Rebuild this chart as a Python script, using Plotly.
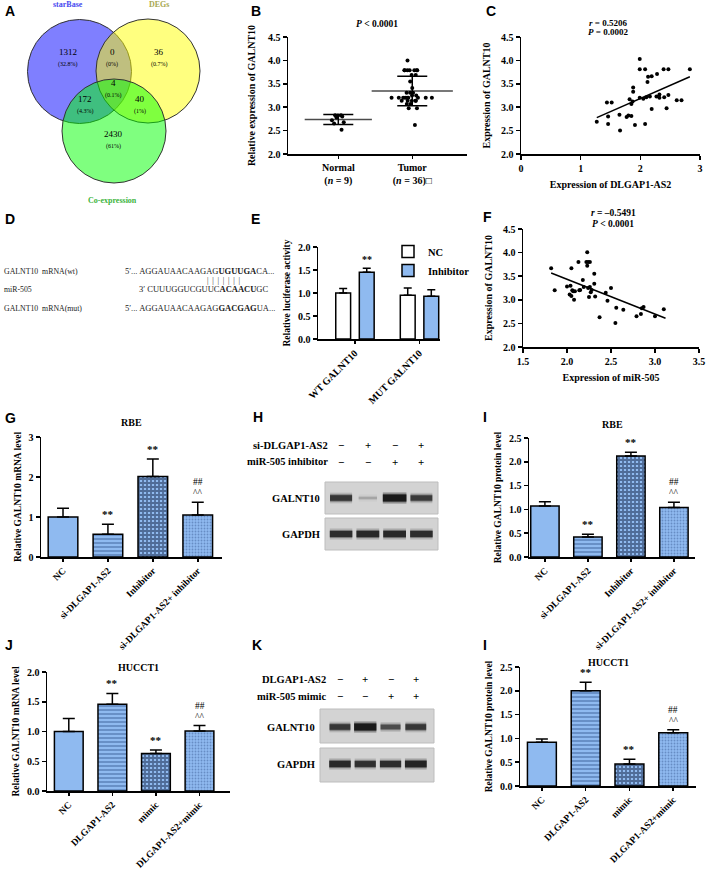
import plotly.graph_objects as go
import numpy as np

W, H = 709, 869
def PX(v): return v / W
def PY(v): return 1 - v / H

SERIF = "Liberation Serif"
SANS = "Liberation Sans"
BLUE = "#8fbaf0"

# ---------------- data ----------------
# A  Venn
venn_sets = ["starBase", "DEGs", "Co-expression"]
venn_counts = [1312, 0, 36, 4, 172, 40, 2430]
venn_pcts = ["(32.8%)", "(0%)", "(0.7%)", "(0.1%)", "(4.3%)", "(1%)", "(61%)"]

# B
b_groups = ["Normal", "Tumor"]
b_ticktext = ["Normal<br>(<i>n</i> = 9)", "Tumor<br>(<i>n</i> = 36)□"]
normal_vals = [2.83, 2.83, 2.82, 2.80, 2.78, 2.72, 2.68, 2.65, 2.52]
tumor_vals = [4.00, 3.79, 3.79, 3.79, 3.79, 3.79, 3.79, 3.79, 3.69, 3.69, 3.55, 3.41,
              3.31, 3.31, 3.31, 3.25, 3.25, 3.20, 3.20, 3.20, 3.20, 3.20, 3.20, 3.20,
              3.20, 3.20, 3.14, 3.14, 3.14, 3.14, 3.14, 3.07, 3.07, 2.98, 2.98, 2.62]

# C
c_x = [1.27, 1.44, 1.52, 1.46, 1.46, 1.65, 1.66, 1.77, 1.80, 1.82, 1.85, 1.85, 1.87, 1.88,
       1.88, 1.91, 1.99, 1.99, 2.08, 1.99, 2.05, 2.10, 2.12, 2.13, 2.19, 2.16, 2.19, 2.08,
       2.28, 2.27, 2.32, 2.32, 2.39, 2.47, 2.40, 2.47, 2.44, 2.61, 2.69, 2.83]
c_y = [2.69, 3.10, 3.10, 2.80, 2.64, 2.84, 2.50, 2.79, 2.82, 3.17, 2.81, 3.07, 3.12, 3.33,
       3.42, 2.62, 4.03, 3.81, 3.81, 3.20, 3.18, 3.21, 3.54, 3.65, 3.66, 3.23, 2.96, 2.64,
       3.71, 3.23, 3.27, 3.20, 3.81, 3.81, 3.21, 3.26, 2.98, 3.15, 3.15, 3.81]

# E
e_groups = ["WT GALNT10", "MUT GALNT10"]
e_nc = [1.00, 0.95]
e_nc_sd = [0.10, 0.16]
e_inh = [1.45, 0.93]
e_inh_sd = [0.09, 0.14]

# F
f_x = [1.82, 1.86, 2.00, 2.03, 2.04, 2.05, 2.05, 2.06, 2.07, 2.08, 2.09, 2.13, 2.14, 2.15,
       2.18, 2.19, 2.22, 2.23, 2.23, 2.24, 2.25, 2.26, 2.27, 2.28, 2.24, 2.26, 2.31, 2.31,
       2.32, 2.37, 2.44, 2.46, 2.50, 2.55, 2.56, 2.64, 2.79, 2.84, 2.85, 2.87, 3.00, 3.10]
f_y = [3.67, 3.20, 3.28, 3.11, 3.30, 3.67, 3.08, 3.20, 3.18, 3.00, 3.18, 3.80, 3.20, 3.21,
       3.42, 3.27, 3.80, 3.72, 4.01, 3.25, 3.06, 3.27, 3.16, 3.21, 3.80, 3.80, 3.34, 3.55,
       3.07, 2.63, 3.15, 2.98, 3.25, 2.51, 2.83, 2.79, 2.65, 2.70, 2.82, 2.85, 2.65, 2.80]

# G / I  (RBE)
rbe_cats = ["NC", "si-DLGAP1-AS2", "Inhibitor", "si-DLGAP1-AS2+ inhibitor"]
g_vals = [1.00, 0.57, 2.01, 1.05]
g_sd = [0.22, 0.25, 0.44, 0.32]
i_vals = [1.07, 0.42, 2.12, 1.04]
i_sd = [0.09, 0.06, 0.08, 0.11]
rbe_star = ["", "**", "**", ""]
rbe_hash = ["", "", "", "##"]
rbe_caret = ["", "", "", "^^"]

# J / L  (HUCCT1)
hu_cats = ["NC", "DLGAP1-AS2", "mimic", "DLGAP1-AS2+mimic"]
j_vals = [1.00, 1.46, 0.63, 1.01]
j_sd = [0.22, 0.18, 0.06, 0.09]
l_vals = [0.92, 2.00, 0.46, 1.12]
l_sd = [0.07, 0.18, 0.10, 0.06]
hu_star = ["", "**", "**", ""]
hu_hash = ["", "", "", "##"]
hu_caret = ["", "", "", "^^"]

# H / K  western blots (relative band intensities 0..1)
h_row_labels = ["si-DLGAP1-AS2", "miR-505 inhibitor"]
h_signs = [["−", "+", "−", "+"], ["−", "−", "+", "+"]]
h_galnt10 = [0.72, 0.04, 1.00, 0.68]
h_gapdh = [0.80, 0.85, 0.85, 0.80]
k_row_labels = ["DLGAP1-AS2", "miR-505 mimic"]
k_signs = [["−", "+", "−", "+"], ["−", "−", "+", "+"]]
k_galnt10 = [0.72, 1.00, 0.55, 0.72]
k_gapdh = [0.85, 0.78, 0.80, 0.90]

# D sequences
d_names = ["GALNT10  mRNA(wt)", "miR-505", "GALNT10  mRNA(mut)"]
d_seqs = ["5′... AGGAUAACAAGAG<b>UGUUGA</b>CA...",
          "3′ CUUUGGUCGUUC<b>ACAACU</b>GC",
          "5′... AGGAUAACAAGAG<b>GACGAG</b>UA..."]
d_pairs = "\u2002".join(["|"] * 7)

# ---------------- figure ----------------
fig = go.Figure()
ann = []
shapes = []

def tf(size=10):
    return dict(family=SERIF, size=size, color="black", weight="bold")

def ax(**kw):
    d = dict(showline=True, linecolor="black", linewidth=1.5, ticks="outside", ticklen=4,
             tickwidth=1.5, tickcolor="black", showgrid=False, zeroline=False,
             tickfont=tf(10), fixedrange=True, automargin=False)
    d.update(kw)
    return d

def hidden(**kw):
    d = dict(visible=False, showgrid=False, zeroline=False, fixedrange=True, automargin=False)
    d.update(kw)
    return d

def text(x, y, t, size=10, family=SERIF, xanchor="center", yanchor="middle", weight="bold",
         color="black", xref="paper", yref="paper", yshift=0, **kw):
    ann.append(dict(x=x, y=y, text=t, xref=xref, yref=yref, xanchor=xanchor, yanchor=yanchor,
                    showarrow=False, yshift=yshift,
                    font=dict(family=family, size=size, color=color, weight=weight), **kw))

lay = {}

# ---- A: Venn ----
lay["xaxis"] = hidden(domain=[0, PX(240)], range=[0, 240])
lay["yaxis"] = hidden(domain=[PY(210), 1], range=[210, 0])
venn_circles = [((79.5, 71.5), "rgba(0,0,255,0.5)"), ((148, 71), "rgba(255,255,0,0.5)"),
                ((114, 131), "rgba(0,255,0,0.5)")]
for (cx, cy), col in venn_circles:
    shapes.append(dict(type="circle", xref="x", yref="y", x0=cx - 52, x1=cx + 52, y0=cy - 52,
                       y1=cy + 52, fillcolor=col, line=dict(color="#333", width=1)))
venn_pos = [(68, 59), (112, 59), (159, 59), (113, 90), (85, 106), (140, 106), (113, 141)]
for (vx, vy), cnt, pct in zip(venn_pos, venn_counts, venn_pcts):
    text(vx, vy, str(cnt), size=9, weight="normal", xref="x", yref="y", yanchor="bottom")
    text(vx, vy, pct, size=6, weight="normal", xref="x", yref="y", yanchor="top")
for (sx, sy), name, col in zip([(68, 4), (159, 4), (112, 200)], venn_sets,
                               ["#4a4af0", "#a8a850", "#3cb43c"]):
    text(sx, sy, name, size=8, weight="bold", color=col, xref="x", yref="y")

# ---- B ----
lay["xaxis2"] = ax(domain=[PX(288), PX(467)], range=[-0.68, 1.74], anchor="y2",
                   tickmode="array", tickvals=b_groups, ticktext=b_ticktext, ticklen=3)
lay["yaxis2"] = ax(domain=[PY(154), PY(37)], range=[2, 4.5], anchor="x2", dtick=0.5,
                   tickformat=".1f",
                   title=dict(text="Relative expression of GALNT10", font=tf(10), standoff=10))
for grp, vals, jit in [("Normal", normal_vals, 0.45), ("Tumor", tumor_vals, 1.0)]:
    fig.add_trace(go.Box(x=[grp] * len(vals), y=vals, boxpoints="all", jitter=jit, pointpos=0,
                         fillcolor="rgba(0,0,0,0)", line=dict(width=0, color="rgba(0,0,0,0)"),
                         marker=dict(color="black", size=4), width=0.6, whiskerwidth=0,
                         xaxis="x2", yaxis="y2", showlegend=False, hoverinfo="skip"))
means = [float(np.mean(normal_vals)), float(np.mean(tumor_vals))]
sds = [float(np.std(normal_vals, ddof=1)), float(np.std(tumor_vals, ddof=1))]
fig.add_trace(go.Scatter(x=b_groups, y=means, mode="markers",
                         marker=dict(symbol="line-ew", size=[48, 58], color="black",
                                     line=dict(width=1.5, color="black")),
                         error_y=dict(type="data", array=sds, color="black", thickness=1.5, width=15),
                         xaxis="x2", yaxis="y2", showlegend=False))
text(PX(377), PY(24), "<i>P</i> &lt; 0.0001", size=9.5)

# ---- C ----
lay["xaxis3"] = ax(domain=[PX(521), PX(700)], range=[0, 3], anchor="y3", dtick=1,
                   ticklabeloverflow="allow",
                   title=dict(text="Expression of DLGAP1-AS2", font=tf(10), standoff=8))
lay["yaxis3"] = ax(domain=[PY(154), PY(37)], range=[2, 4.5], anchor="x3", dtick=0.5,
                   tickformat=".1f", title=dict(text="Expression of GALNT10", font=tf(10), standoff=8))
fig.add_trace(go.Scatter(x=c_x, y=c_y, mode="markers", marker=dict(color="black", size=4),
                         xaxis="x3", yaxis="y3", showlegend=False))
cs, ci = np.polyfit(c_x, c_y, 1)
cxl = [min(c_x), max(c_x)]
fig.add_trace(go.Scatter(x=cxl, y=[cs * v + ci for v in cxl], mode="lines",
                         line=dict(color="black", width=1.5), xaxis="x3", yaxis="y3", showlegend=False))
text(PX(608), PY(23), "<i>r</i> = 0.5206", size=9)
text(PX(608), PY(32), "<i>P</i> = 0.0002", size=9)

# ---- D ----
for yy, name, seq, sx in zip([271, 289, 308], d_names, d_seqs, [123, 137, 123]):
    text(PX(2), PY(yy), name, size=7.8, weight="normal", xanchor="left", color="#222")
    text(PX(sx), PY(yy), seq, size=8.5, weight="normal", xanchor="left", color="#222")
text(PX(205), PY(280), d_pairs, size=7.5, weight="normal", xanchor="left", color="#222")

# ---- E ----
lay["xaxis4"] = ax(domain=[PX(318), PX(440)], range=[-0.57, 1.32], anchor="y4", tickangle=-45,
                   ticklen=3)
lay["yaxis4"] = ax(domain=[PY(339), PY(247)], range=[0, 2], anchor="x4", dtick=0.5,
                   tickformat=".1f",
                   title=dict(text="Relative luciferase activity", font=tf(9.5), standoff=5))
fig.add_trace(go.Bar(x=e_groups, y=e_nc, name="NC", width=0.23, offset=-0.295,
                     marker=dict(color="white", line=dict(color="black", width=1.5)),
                     error_y=dict(type="data", array=e_nc_sd, arrayminus=[0] * 2, symmetric=False,
                                  color="black", thickness=1.5, width=4),
                     xaxis="x4", yaxis="y4"))
fig.add_trace(go.Bar(x=e_groups, y=e_inh, name="Inhibitor", width=0.23, offset=0.07,
                     marker=dict(color=BLUE, line=dict(color="black", width=1.5)),
                     error_y=dict(type="data", array=e_inh_sd, arrayminus=[0] * 2, symmetric=False,
                                  color="black", thickness=1.5, width=4),
                     xaxis="x4", yaxis="y4"))
text(0.185, e_inh[0] + e_inh_sd[0], "**", size=10, xref="x4", yref="y4", yanchor="bottom",
     yshift=1)

# ---- F ----
lay["xaxis5"] = ax(domain=[PX(523), PX(699)], range=[1.5, 3.5], anchor="y5", dtick=0.5,
                   tickformat=".1f", ticklabeloverflow="allow",
                   title=dict(text="Expression of miR-505", font=tf(10), standoff=8))
lay["yaxis5"] = ax(domain=[PY(347), PY(229)], range=[2, 4.5], anchor="x5", dtick=0.5,
                   tickformat=".1f", title=dict(text="Expression of GALNT10", font=tf(10), standoff=8))
fig.add_trace(go.Scatter(x=f_x, y=f_y, mode="markers", marker=dict(color="black", size=4),
                         xaxis="x5", yaxis="y5", showlegend=False))
fs, fi = np.polyfit(f_x, f_y, 1)
fxl = [min(f_x), 3.12]
fig.add_trace(go.Scatter(x=fxl, y=[fs * v + fi for v in fxl], mode="lines",
                         line=dict(color="black", width=1.5), xaxis="x5", yaxis="y5", showlegend=False))
text(PX(613), PY(213), "<i>r</i> = –0.5491", size=9.5)
text(PX(613), PY(224), "<i>P</i> &lt; 0.0001", size=9.5)

# ---- bar panels ----
PAT_SHAPE = ["", "-", "+", "."]
PAT_FG = ["black", "#2d4f8a", "#0f1d40", "#3f5f98"]
PAT_SIZE = [6, 4, 4, 3]
PAT_SOL = [0.2, 0.4, 0.7, 0.3]

def bar_panel(n, cats, vals, sd, stars, hashes, carets, xdom, ydom, xr, yr, dtick, fmt, title,
              ytitle, title_y):
    xa, ya = f"x{n}", f"y{n}"
    lay[f"xaxis{n}"] = ax(domain=xdom, range=xr, anchor=ya, tickangle=-45, ticklen=3,
                          tickfont=tf(9.5), ticklabeloverflow="allow")
    lay[f"yaxis{n}"] = ax(domain=ydom, range=yr, anchor=xa, dtick=dtick, tickformat=fmt,
                          title=dict(text=ytitle, font=tf(9.5), standoff=5))
    fig.add_trace(go.Bar(x=cats, y=vals, width=0.66,
                         marker=dict(color=BLUE, line=dict(color="black", width=1.5),
                                     pattern=dict(shape=PAT_SHAPE, fgcolor=PAT_FG, size=PAT_SIZE,
                                                  solidity=PAT_SOL)),
                         error_y=dict(type="data", array=sd, arrayminus=[0] * len(sd),
                                      symmetric=False, color="black", thickness=1.5, width=6),
                         xaxis=xa, yaxis=ya, showlegend=False))
    for c, v, s, st, hs, ca in zip(cats, vals, sd, stars, hashes, carets):
        top = v + s
        if st:
            text(c, top, st, size=11, xref=xa, yref=ya, yanchor="bottom", yshift=2)
        if ca:
            text(c, top, ca, size=9.5, weight="normal", xref=xa, yref=ya, yanchor="bottom", yshift=2)
        if hs:
            text(c, top, hs, size=9.5, weight="normal", xref=xa, yref=ya, yanchor="bottom",
                 yshift=13)
    xmid = (xdom[0] + xdom[1]) / 2
    text(xmid, title_y, title, size=10)

bar_panel(6, rbe_cats, g_vals, g_sd, rbe_star, rbe_hash, rbe_caret,
          [PX(41), PX(222)], [PY(557), PY(437)], [-0.49, 3.54], [0, 3], 1, "d",
          "RBE", "Relative GALNT10 mRNA level", PY(422))
bar_panel(8, rbe_cats, i_vals, i_sd, rbe_star, rbe_hash, rbe_caret,
          [PX(529), PX(695)], [PY(557), PY(438)], [-0.37, 3.49], [0, 2.5], 0.5, ".1f",
          "RBE", "Relative GALNT10 protein level", PY(425))
bar_panel(9, hu_cats, j_vals, j_sd, hu_star, hu_hash, hu_caret,
          [PX(47), PX(230)], [PY(791), PY(672)], [-0.5, 3.7], [0, 2], 0.5, ".1f",
          "HUCCT1", "Relative GALNT10 mRNA level", PY(667))
bar_panel(11, hu_cats, l_vals, l_sd, hu_star, hu_hash, hu_caret,
          [PX(520), PX(696)], [PY(786), PY(667)], [-0.5, 3.52], [0, 2.5], 0.5, ".1f",
          "HUCCT1", "Relative GALNT10 protein level", PY(662))

# ---- blots ----
def blot(n, xdom_px, xr, ytop, ybot, row_labels, signs, sign_y, label_right, bands,
         band_rows, band_labels, box_rows, band_label_right):
    xa, ya = f"x{n}", f"y{n}"
    lay[f"xaxis{n}"] = hidden(domain=[PX(xdom_px[0]), PX(xdom_px[1])], range=xr, anchor=ya)
    lay[f"yaxis{n}"] = hidden(domain=[PY(ybot), PY(ytop)], range=[ybot, ytop], anchor=xa)
    for (y0, y1) in box_rows:
        shapes.append(dict(type="rect", xref=f"{xa} domain", yref=ya, x0=0, x1=1, y0=y0, y1=y1,
                           fillcolor="#d3d3d3", line=dict(color="#bdbdbd", width=1), layer="below"))
    for lab, sy, sg in zip(row_labels, sign_y, signs):
        text(PX(label_right), PY(sy), lab, size=10.5, xanchor="right")
        for i, s in enumerate(sg):
            text(i, sy, s, size=11, xref=xa, yref=ya)
    for vals, ry, lab in zip(bands, band_rows, band_labels):
        text(PX(band_label_right), PY(ry), lab, size=10.5, xanchor="right")
        for i, v in enumerate(vals):
            hw = 0.34 + 0.1 * v
            for extra, k in [(5, 0.22), (2, 0.45), (0, 1.0)]:
                a = (0.12 + 0.8 * v) * k
                fig.add_trace(go.Scatter(x=[i - hw, i + hw], y=[ry, ry], mode="lines",
                                         line=dict(color=f"rgba(20,20,20,{a:.3f})",
                                                   width=2 + 5 * v + extra),
                                         xaxis=xa, yaxis=ya, showlegend=False, hoverinfo="skip"))

blot(7, (325, 438), [-0.6, 3.62], 430, 560, h_row_labels, h_signs, [445, 462], 330,
     [h_galnt10, h_gapdh], [498, 534], ["GALNT10", "GAPDH"], [(482, 514), (518, 550)], 322)
blot(10, (320, 434), [-0.79, 3.72], 665, 790, k_row_labels, k_signs, [679, 696], 328,
     [k_galnt10, k_gapdh], [727, 764], ["GALNT10", "GAPDH"], [(709, 743), (748, 782)], 317)

# ---- panel letters ----
for lt, lx, ly in [("A", 3, 1), ("B", 249, 1), ("C", 484, 1), ("D", 3, 209), ("E", 249, 209),
                   ("F", 481, 207), ("G", 3, 408), ("H", 251, 407), ("I", 481, 407),
                   ("J", 3, 635), ("K", 250, 635), ("I", 481, 635)]:
    text(PX(lx), PY(ly), lt, size=14, family=SANS, xanchor="left", yanchor="top")

fig.update_layout(
    width=W, height=H, margin=dict(l=0, r=0, t=0, b=0, pad=0, autoexpand=False),
    paper_bgcolor="white", plot_bgcolor="white",
    barmode="overlay", showlegend=True,
    legend=dict(x=PX(388), y=PY(237), xanchor="left", yanchor="top",
                font=dict(family=SERIF, size=10.5, color="black", weight="bold"),
                bgcolor="rgba(0,0,0,0)", tracegroupgap=0, itemwidth=30),
    annotations=ann, shapes=shapes, **lay)

fig.write_html("out.html", config={"displayModeBar": False, "staticPlot": True},
               post_script="document.body.style.margin='0';document.body.style.padding='0';"
                           "document.body.style.overflow='hidden';")
